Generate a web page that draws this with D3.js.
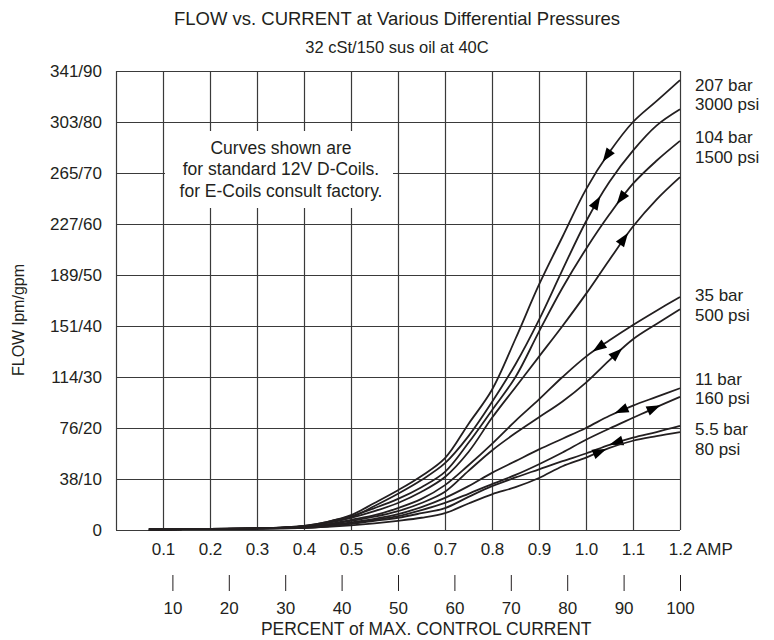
<!DOCTYPE html>
<html><head><meta charset="utf-8">
<script src="https://cdn.jsdelivr.net/npm/d3@7/dist/d3.min.js"></script>
<style>
body{margin:0;background:#fff;}
text{font-family:"Liberation Sans",Arial,Helvetica,sans-serif;fill:#231f20;}
</style>
</head><body>
<svg id="c" width="774" height="640"></svg>
<script>
// ---------- data ----------
const ampTicks   = [0,0.1,0.2,0.3,0.4,0.5,0.6,0.7,0.8,0.9,1.0,1.1,1.2];
const ampLabels  = ["","0.1","0.2","0.3","0.4","0.5","0.6","0.7","0.8","0.9","1.0","1.1","1.2"];
const gpmTicks   = [0,10,20,30,40,50,60,70,80,90];
const flowLabels = ["0","38/10","76/20","114/30","151/40","189/50","227/60","265/70","303/80","341/90"];
const pctTicks   = [10,20,30,40,50,60,70,80,90,100];

const amps = [0.07,0.2,0.3,0.4,0.45,0.5,0.55,0.6,0.65,0.7,0.75,0.8,0.85,0.9,0.95,1.0,1.05,1.1,1.15,1.2];
// flow in gpm, decreasing-current (upper) and increasing-current (lower) branches
const flow207Down = [0.1,0.2,0.3,0.8,1.6,2.9,5.3,7.8,10.6,14.1,20.8,27.5,37.5,48.1,57.5,66.8,74.1,80.0,84.1,88.2];
const flow207Up   = [0.1,0.2,0.3,0.7,1.4,2.5,4.7,7.1,9.8,13.1,18.4,25.1,32.5,41.2,51.0,60.5,68.3,74.4,79.3,82.5];
const flow104Down = [0.1,0.2,0.3,0.8,1.6,2.7,4.3,6.1,8.4,11.4,17.1,23.5,30.0,38.9,47.5,55.1,61.9,67.9,72.4,76.3];
const flow104Up   = [0.1,0.2,0.3,0.7,1.4,2.4,3.7,5.3,7.5,10.4,15.3,22.0,28.0,34.0,40.0,46.3,53.0,59.5,64.8,69.2];
const flow35Down  = [0.1,0.2,0.3,0.6,1.1,2.0,2.9,4.3,6.1,8.8,12.7,16.9,21.4,25.6,30.0,34.0,37.2,40.2,43.0,45.7];
const flow35Up    = [0.1,0.2,0.3,0.5,1.0,1.8,2.6,3.7,5.3,7.5,11.6,15.6,19.0,22.1,25.2,28.9,33.3,37.4,40.4,43.3];
const flow11Down  = [0.1,0.2,0.3,0.5,0.9,1.5,2.2,3.1,4.5,6.3,8.6,11.2,13.5,15.8,17.9,20.0,22.4,24.4,26.1,27.8];
const flow11Up    = [0.1,0.2,0.3,0.4,0.8,1.3,2.0,2.7,3.9,5.3,7.1,9.0,10.8,12.9,15.2,17.7,19.9,22.0,24.1,26.1];
const flow5Down   = [0.1,0.2,0.3,0.4,0.7,1.2,1.8,2.4,3.3,4.3,6.5,8.6,10.3,11.9,13.5,15.0,16.7,18.1,19.2,20.4];
const flow5Up     = [0.1,0.2,0.3,0.4,0.6,0.9,1.3,1.8,2.4,3.3,5.2,7.0,8.4,10.2,12.5,14.2,16.1,17.5,18.4,19.2];

const seriesList = [flow207Down,flow207Up,flow104Down,flow104Up,flow35Down,flow35Up,flow11Down,flow11Up,flow5Down,flow5Up];
const arrowAmp   = [1.044,1.023,1.074,1.081,1.027,1.066,1.074,1.145,1.064,1.03];
const arrowDir   = ["down","up","down","up","down","up","down","up","down","up"];

const pressureLabels = [["207 bar",85],["3000 psi",104],["104 bar",137],["1500 psi",157],
  ["35 bar",295],["500 psi",315],["11 bar",379],["160 psi",398],["5.5 bar",429],["80 psi",449]];
const noteLines = ["Curves shown are","for standard 12V D-Coils.","for E-Coils consult factory."];

// ---------- layout ----------
const L=116,R=680,T=71,B=530;
const FS=17;
const svg=d3.select("#c");
const x=d3.scaleLinear().domain([0,1.2]).range([L,R]);
const y=d3.scaleLinear().domain([0,90]).range([B,T]);
const xp=d3.scaleLinear().domain([0,100]).range([L,R]);
const gridCol="#3a3a3a";

// y grid + labels
const gy=svg.append("g").attr("transform",`translate(${L},0)`)
  .call(d3.axisLeft(y).tickValues(gpmTicks).tickSize(-(R-L)).tickPadding(14)
    .tickFormat((d,i)=>flowLabels[i]));
gy.select(".domain").remove();
gy.selectAll("line").attr("stroke",gridCol).attr("stroke-width",1.2);
gy.selectAll("text").attr("font-size",FS).attr("font-family",null).attr("fill","#231f20");

// x grid + labels
const gx=svg.append("g").attr("transform",`translate(0,${B})`)
  .call(d3.axisBottom(x).tickValues(ampTicks).tickSize(-(B-T)).tickPadding(13)
    .tickFormat((d,i)=>ampLabels[i]));
gx.select(".domain").remove();
gx.selectAll("line").attr("stroke",gridCol).attr("stroke-width",1.2);
gx.selectAll("text").attr("font-size",FS).attr("font-family",null).attr("fill","#231f20");
svg.append("text").attr("x",x(1.2)+16).attr("y",B+13).attr("dy","0.71em")
  .attr("font-size",FS).text("AMP");

// percent axis
const gp=svg.append("g").attr("transform",`translate(0,575)`)
  .call(d3.axisBottom(xp).tickValues(pctTicks).tickSize(16).tickPadding(11));
gp.select(".domain").remove();
gp.selectAll("line").attr("stroke","#231f20").attr("stroke-width",1);
gp.selectAll("text").attr("font-size",FS).attr("font-family",null).attr("fill","#231f20");
svg.append("text").attr("x",(xp(10)+xp(100))/2).attr("y",635).attr("text-anchor","middle")
  .attr("font-size",17.5).text("PERCENT of MAX. CONTROL CURRENT");

// titles
svg.append("text").attr("x",397).attr("y",25).attr("text-anchor","middle")
  .attr("font-size",18.5).text("FLOW vs. CURRENT at Various Differential Pressures");
svg.append("text").attr("x",397).attr("y",53).attr("text-anchor","middle")
  .attr("font-size",16.5).text("32 cSt/150 sus oil at 40C");
svg.append("text").attr("transform","translate(24,320) rotate(-90)").attr("text-anchor","middle")
  .attr("font-size",16).text("FLOW lpm/gpm");

// note box
svg.append("rect").attr("x",165).attr("y",131).attr("width",228).attr("height",77).attr("fill","#fff");
noteLines.forEach((t,i)=>svg.append("text").attr("x",281).attr("y",153.5+i*21.5)
  .attr("text-anchor","middle").attr("font-size",17.5).text(t));

// curves
const line=d3.line().x((d,i)=>x(amps[i])).y(d=>y(d)).curve(d3.curveCatmullRom.alpha(0.5));
seriesList.forEach((s,k)=>{
  const p=svg.append("path").attr("d",line(s)).attr("fill","none")
    .attr("stroke","#231f20").attr("stroke-width",1.8).attr("stroke-linejoin","round");
  const node=p.node(), len=node.getTotalLength();
  const tx=x(arrowAmp[k]);
  let best=0,bd=1e9;
  for(let l=0;l<=len;l+=0.5){const pt=node.getPointAtLength(l);const dd=Math.abs(pt.x-tx);if(dd<bd){bd=dd;best=l;}}
  const a=node.getPointAtLength(Math.max(0,best-3)), b=node.getPointAtLength(Math.min(len,best+3));
  let dx=b.x-a.x, dy=b.y-a.y; const n=Math.hypot(dx,dy); dx/=n; dy/=n;
  if(arrowDir[k]==="down"){dx=-dx;dy=-dy;}
  const c=node.getPointAtLength(best);
  const hl=7, hw=5;
  const tip=[c.x+dx*hl,c.y+dy*hl];
  const b1=[c.x-dx*hl+(-dy)*hw,c.y-dy*hl+dx*hw];
  const b2=[c.x-dx*hl-(-dy)*hw,c.y-dy*hl-dx*hw];
  svg.append("path").attr("d",`M${tip}L${b1}L${b2}Z`).attr("fill","#000");
});

// pressure labels
pressureLabels.forEach(([t,yy])=>svg.append("text").attr("x",695).attr("y",yy).attr("dy","0.35em")
  .attr("font-size",FS).text(t));
</script>
</body></html>
